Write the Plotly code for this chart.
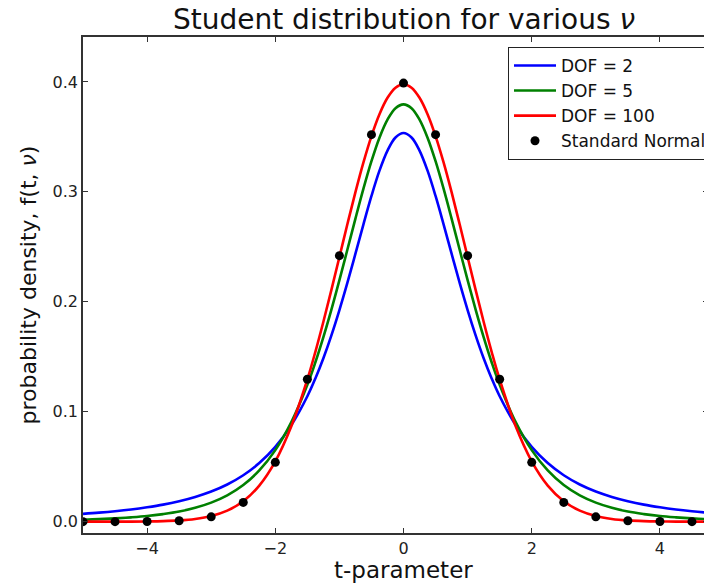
import plotly.graph_objects as go

# ---- data ----
t_values = [-5.0, -4.75, -4.5, -4.25, -4.0, -3.75, -3.5, -3.25, -3.0, -2.75, -2.5, -2.25,
            -2.0, -1.75, -1.5, -1.375, -1.25, -1.125, -1.0, -0.875, -0.75, -0.625, -0.5, -0.375, -0.25, -0.125, 0.0,
            0.125, 0.25, 0.375, 0.5, 0.625, 0.75, 0.875, 1.0, 1.125, 1.25, 1.375, 1.5, 1.75, 2.0, 2.25, 2.5, 2.75,
            3.0, 3.25, 3.5, 3.75, 4.0, 4.25, 4.5, 4.75, 5.0]

dof2 = [0.0071, 0.0082, 0.0095, 0.0111, 0.0131, 0.0155, 0.0186, 0.0225, 0.0274, 0.0338, 0.0422, 0.0533,
        0.0680, 0.0878, 0.1141, 0.1303, 0.1487, 0.1695, 0.1925, 0.2174, 0.2438, 0.2705, 0.2963, 0.3193, 0.3376, 0.3495, 0.3536,
        0.3495, 0.3376, 0.3193, 0.2963, 0.2705, 0.2438, 0.2174, 0.1925, 0.1695, 0.1487, 0.1303, 0.1141, 0.0878, 0.0680, 0.0533, 0.0422, 0.0338,
        0.0274, 0.0225, 0.0186, 0.0155, 0.0131, 0.0111, 0.0095, 0.0082, 0.0071]

dof5 = [0.0018, 0.0023, 0.0030, 0.0039, 0.0051, 0.0069, 0.0092, 0.0126, 0.0173, 0.0239, 0.0333, 0.0466,
        0.0651, 0.0905, 0.1245, 0.1450, 0.1679, 0.1929, 0.2197, 0.2476, 0.2757, 0.3029, 0.3279, 0.3493, 0.3657, 0.3761, 0.3796,
        0.3761, 0.3657, 0.3493, 0.3279, 0.3029, 0.2757, 0.2476, 0.2197, 0.1929, 0.1679, 0.1450, 0.1245, 0.0905, 0.0651, 0.0466, 0.0333, 0.0239,
        0.0173, 0.0126, 0.0092, 0.0069, 0.0051, 0.0039, 0.0030, 0.0023, 0.0018]

dof100 = [0.000005, 0.000014, 0.000036, 0.000091, 0.000221, 0.000518, 0.00116, 0.00250, 0.00513, 0.01002, 0.01862, 0.03286,
          0.05491, 0.08676, 0.12937, 0.15454, 0.18189, 0.21086, 0.24077, 0.27074, 0.29978, 0.32683, 0.35081, 0.37069, 0.38559, 0.39482, 0.39795,
          0.39482, 0.38559, 0.37069, 0.35081, 0.32683, 0.29978, 0.27074, 0.24077, 0.21086, 0.18189, 0.15454, 0.12937, 0.08676, 0.05491, 0.03286, 0.01862, 0.01002,
          0.00513, 0.00250, 0.00116, 0.000518, 0.000221, 0.000091, 0.000036, 0.000014, 0.000005]

normal_t = [-5.0, -4.5, -4.0, -3.5, -3.0, -2.5, -2.0, -1.5, -1.0, -0.5, 0.0,
            0.5, 1.0, 1.5, 2.0, 2.5, 3.0, 3.5, 4.0, 4.5, 5.0]
normal_pdf = [0.0000015, 0.000016, 0.000134, 0.000873, 0.004432, 0.017528, 0.053991, 0.129518, 0.241971, 0.352065, 0.398942,
              0.352065, 0.241971, 0.129518, 0.053991, 0.017528, 0.004432, 0.000873, 0.000134, 0.000016, 0.0000015]

x_ticks = [-4, -2, 0, 2, 4]
y_ticks = [0.0, 0.1, 0.2, 0.3, 0.4]

FONT = "DejaVu Sans"

fig = go.Figure()
for name, ys, col in [("DOF = 2", dof2, "#0000ff"),
                      ("DOF = 5", dof5, "#008000"),
                      ("DOF = 100", dof100, "#ff0000")]:
    fig.add_trace(go.Scatter(x=t_values, y=ys, mode="lines", name=name,
                             line=dict(color=col, width=2.6, shape="spline", smoothing=1.0)))

fig.add_trace(go.Scatter(x=normal_t, y=normal_pdf, mode="markers", name="Standard Normal",
                         marker=dict(color="black", size=9)))

axis_common = dict(showline=True, linecolor="#333", linewidth=1.5, mirror="ticks",
                   ticks="inside", ticklen=5, tickcolor="#333", showgrid=False, zeroline=False,
                   automargin=False,
                   tickfont=dict(family=FONT, size=16, color="#222"))

# the page body adds an 8px offset, so the figure is sized to the remaining window
fig.update_layout(
    width=704, height=576,
    margin=dict(l=75, r=0, t=29, b=51),
    paper_bgcolor="white", plot_bgcolor="white",
    font=dict(family=FONT, color="#111"),
    showlegend=True,
    legend=dict(x=0.68, y=0.98, xanchor="left", yanchor="top",
                bordercolor="#222", borderwidth=1, bgcolor="white",
                font=dict(family=FONT, size=17, color="#111"),
                itemwidth=42, tracegroupgap=0),
    xaxis=dict(range=[-5, 4.75], tickvals=x_ticks, **axis_common),
    yaxis=dict(range=[-0.0103, 0.4409], tickvals=y_ticks, tickformat=".1f",
               title=dict(text="probability density, f(t, <i>ν</i>)",
                          font=dict(family=FONT, size=22, color="#111"), standoff=10),
               **axis_common),
    annotations=[
        dict(text="Student distribution for various <i>ν</i>", xref="paper", yref="paper",
             x=0.513, y=1.0, yshift=-1, xanchor="center", yanchor="bottom", showarrow=False,
             font=dict(family=FONT, size=28, color="#111")),
        dict(text="t-parameter", xref="paper", yref="paper",
             x=0.513, y=0, yshift=-22, xanchor="center", yanchor="top", showarrow=False,
             font=dict(family=FONT, size=23, color="#111")),
    ],
)

fig.write_html("out.html")
